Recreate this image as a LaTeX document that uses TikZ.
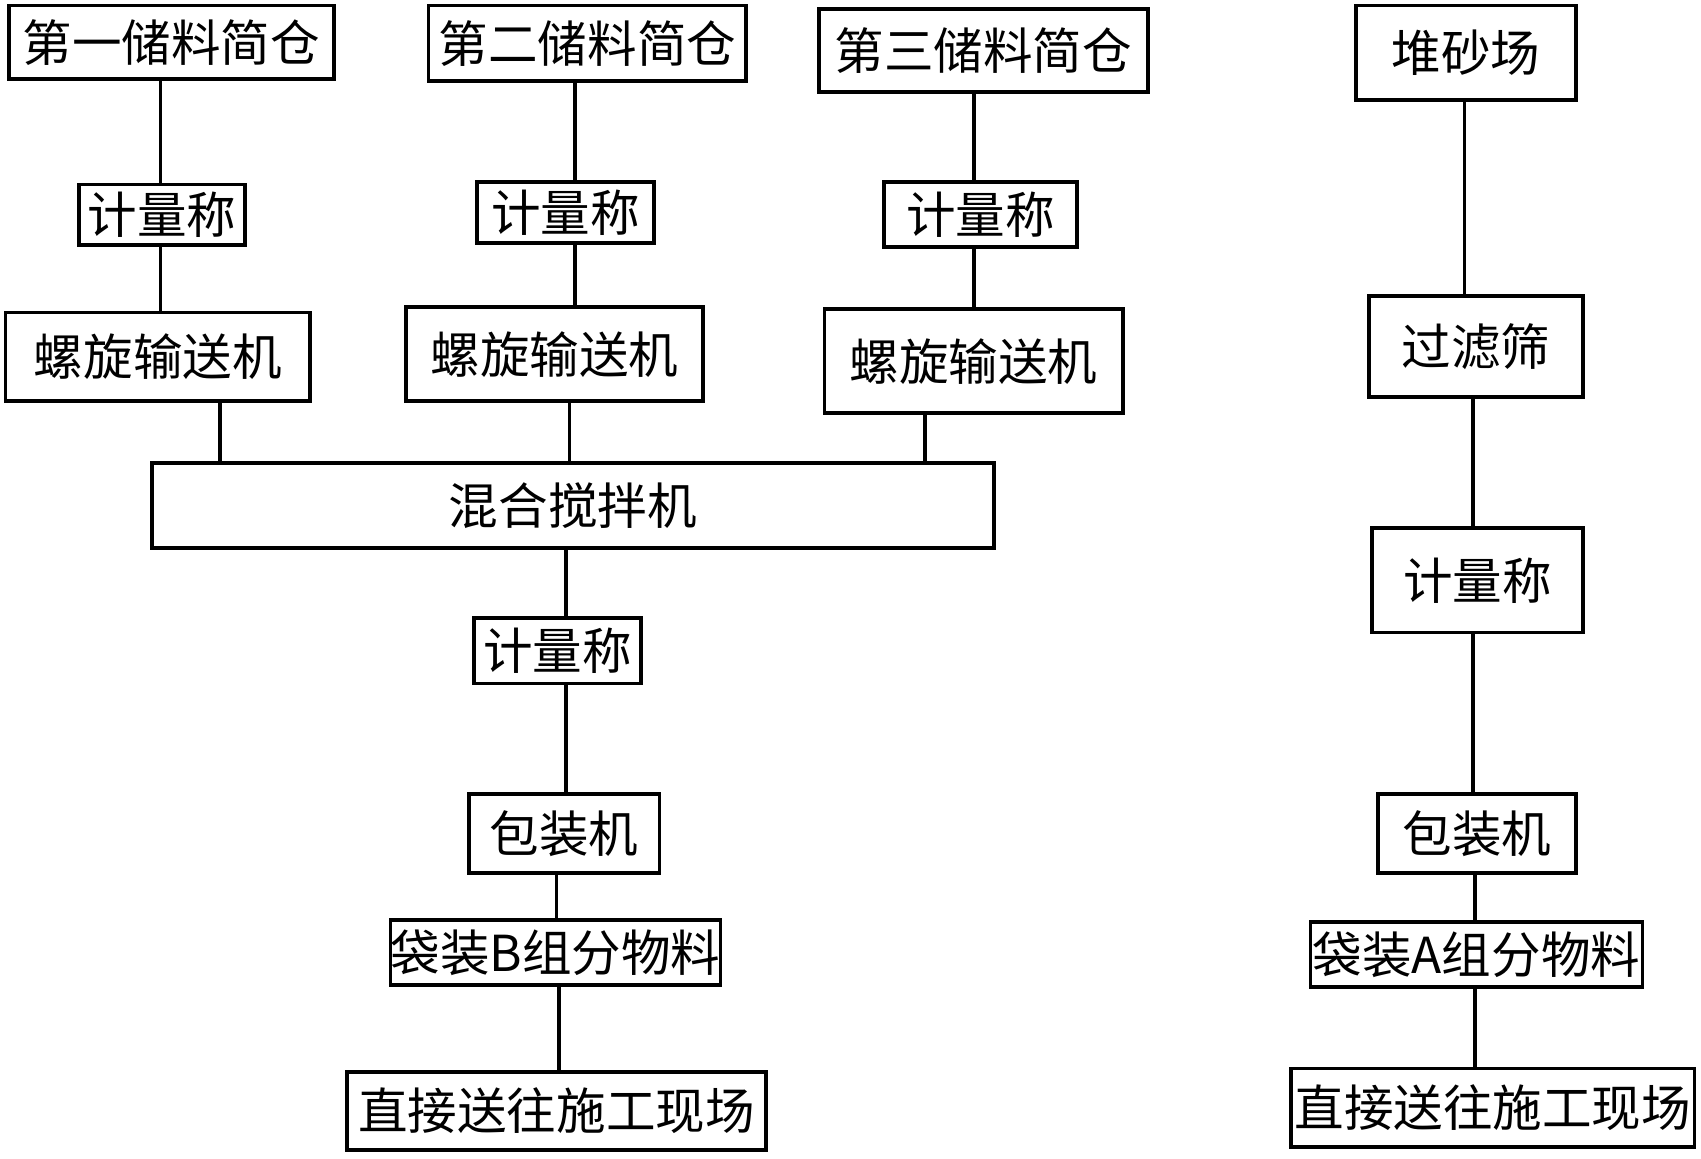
\documentclass[tikz,border=0pt]{standalone}
\usepackage{fontspec}
\setmainfont{Noto Sans CJK SC}
\usetikzlibrary{positioning}
\tikzset{
 box/.style={draw,line width=1pt,inner sep=0pt,font=\fontsize{13}{15}\selectfont},
 link/.style={line width=1pt}
}
\begin{document}
\begin{tikzpicture}
 \useasboundingbox (0,0) rectangle (15.68,-10.68);
 % left three silos
 \node[box,minimum width=3.00cm,minimum height=0.68cm] (silo1) at (1.58,-0.39) {第一储料简仓};
 \node[box,minimum width=2.93cm,minimum height=0.70cm] (silo2) at (5.415,-0.40) {第二储料简仓};
 \node[box,minimum width=3.03cm,minimum height=0.77cm] (silo3) at (9.065,-0.465) {第三储料简仓};
 \node[box,minimum width=1.53cm,minimum height=0.56cm] (scale1) at (1.495,-1.98) {计量称};
 \node[box,minimum width=1.63cm,minimum height=0.56cm] (scale2) at (5.215,-1.96) {计量称};
 \node[box,minimum width=1.78cm,minimum height=0.60cm] (scale3) at (9.04,-1.98) {计量称};
 \node[box,minimum width=2.81cm,minimum height=0.82cm] (screw1) at (1.455,-3.29) {螺旋输送机};
 \node[box,minimum width=2.74cm,minimum height=0.87cm] (screw2) at (5.11,-3.265) {螺旋输送机};
 \node[box,minimum width=2.75cm,minimum height=0.96cm] (screw3) at (8.975,-3.33) {螺旋输送机};
 \node[box,minimum width=7.76cm,minimum height=0.78cm] (mixer) at (5.28,-4.66) {混合搅拌机};
 \node[box,minimum width=1.54cm,minimum height=0.60cm] (scale4) at (5.14,-6.00) {计量称};
 \node[box,minimum width=1.76cm,minimum height=0.73cm] (packB) at (5.20,-7.685) {包装机};
 \node[box,minimum width=3.00cm,minimum height=0.60cm] (bagB) at (5.12,-8.78) {袋装B组分物料};
 \node[box,minimum width=3.86cm,minimum height=0.72cm] (siteB) at (5.13,-10.24) {直接送往施工现场};
 % sand line
 \node[box,minimum width=2.03cm,minimum height=0.87cm] (sand) at (13.515,-0.485) {堆砂场};
 \node[box,minimum width=1.97cm,minimum height=0.93cm] (sieve) at (13.605,-3.195) {过滤筛};
 \node[box,minimum width=1.94cm,minimum height=0.96cm] (scaleA) at (13.62,-5.35) {计量称};
 \node[box,minimum width=1.83cm,minimum height=0.73cm] (packA) at (13.615,-7.685) {包装机};
 \node[box,minimum width=3.06cm,minimum height=0.60cm] (bagA) at (13.61,-8.80) {袋装A组分物料};
 \node[box,minimum width=3.72cm,minimum height=0.72cm] (siteA) at (13.76,-10.21) {直接送往施工现场};

 \draw[link] (silo1.south -| 1.48,0) -- (scale1.north -| 1.48,0);
 \draw[link] (scale1.south -| 1.48,0) -- (screw1.north -| 1.48,0);
 \draw[link] (silo2.south -| 5.30,0) -- (scale2.north -| 5.30,0);
 \draw[link] (scale2.south -| 5.30,0) -- (screw2.north -| 5.30,0);
 \draw[link] (silo3.south -| 8.98,0) -- (scale3.north -| 8.98,0);
 \draw[link] (scale3.south -| 8.98,0) -- (screw3.north -| 8.98,0);
 \draw[link] (screw1.south -| 2.03,0) -- (mixer.north -| 2.03,0);
 \draw[link] (screw2.south -| 5.25,0) -- (mixer.north -| 5.25,0);
 \draw[link] (screw3.south -| 8.53,0) -- (mixer.north -| 8.53,0);
 \draw[link] (mixer.south -| 5.22,0) -- (scale4.north -| 5.22,0);
 \draw[link] (scale4.south -| 5.22,0) -- (packB.north -| 5.22,0);
 \draw[link] (packB.south -| 5.13,0) -- (bagB.north -| 5.13,0);
 \draw[link] (bagB.south -| 5.15,0) -- (siteB.north -| 5.15,0);
 \draw[link] (sand.south -| 13.50,0) -- (sieve.north -| 13.50,0);
 \draw[link] (sieve.south -| 13.58,0) -- (scaleA.north -| 13.58,0);
 \draw[link] (scaleA.south -| 13.58,0) -- (packA.north -| 13.58,0);
 \draw[link] (packA.south -| 13.60,0) -- (bagA.north -| 13.60,0);
 \draw[link] (bagA.south -| 13.60,0) -- (siteA.north -| 13.60,0);
\end{tikzpicture}
\end{document}
